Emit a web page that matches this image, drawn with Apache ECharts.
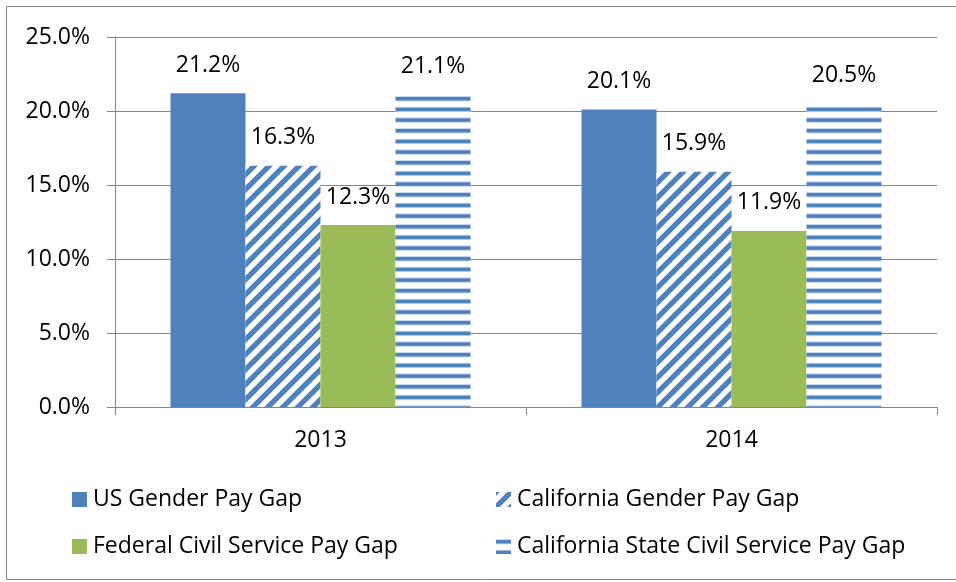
<!DOCTYPE html>
<html>
<head>
<meta charset="utf-8">
<script src="https://cdn.jsdelivr.net/npm/echarts@6/dist/echarts.min.js"></script>
<style>
  html, body { margin: 0; padding: 0; background: #fff; }
  #chart { width: 956px; height: 582px; }
</style>
</head>
<body>
<div id="chart"></div>
<script>
var categories = ['2013', '2014'];
var seriesNames = ['US Gender Pay Gap', 'California Gender Pay Gap', 'Federal Civil Service Pay Gap', 'California State Civil Service Pay Gap'];
var usGap = [21.2, 20.1];
var caGap = [16.3, 15.9];
var fedGap = [12.3, 11.9];
var caStateGap = [21.1, 20.5];
var yTicks = [0, 5, 10, 15, 20, 25];

var BLUE = '#4F81BD';
var GREEN = '#9BBB59';
var FONT = '"Open Sans", sans-serif';
var FS = 23;

function diagPattern() {
  var T = 15;
  var c = document.createElement('canvas');
  c.width = T; c.height = T;
  var g = c.getContext('2d');
  g.fillStyle = '#fff';
  g.fillRect(0, 0, T, T);
  g.strokeStyle = BLUE;
  g.lineWidth = 5.3;
  g.lineCap = 'square';
  var offs = [-T, 0, T];
  for (var i = 0; i < offs.length; i++) {
    g.beginPath();
    g.moveTo(offs[i] - 2, T + 2);
    g.lineTo(offs[i] + T + 2, -2);
    g.stroke();
  }
  return { image: c, repeat: 'repeat' };
}

function horizPattern() {
  var P = 32 / 3;
  var c = document.createElement('canvas');
  c.width = 8; c.height = 32;
  var g = c.getContext('2d');
  g.fillStyle = '#fff';
  g.fillRect(0, 0, 8, 32);
  for (var k = 0; k < 3; k++) {
    var y = k * P;
    g.fillStyle = 'rgba(79,129,189,0.3)';
    g.fillRect(0, y, 8, 5.5);
    g.fillStyle = BLUE;
    g.fillRect(0, y + 1, 8, 3.5);
  }
  return { image: c, repeat: 'repeat' };
}

var colors = [BLUE, diagPattern(), GREEN, horizPattern()];
var values = [usGap, caGap, fedGap, caStateGap];

var labelStyle = {
  show: true,
  position: 'top',
  distance: 16,
  color: '#000',
  fontFamily: FONT,
  fontSize: FS,
  lineHeight: 24,
  formatter: function (p) { return p.value.toFixed(1) + '%'; }
};

var series = seriesNames.map(function (n, i) {
  return {
    name: n,
    type: 'bar',
    data: values[i],
    barGap: '0%',
    barCategoryGap: '27%',
    itemStyle: { color: colors[i] },
    label: labelStyle,
    emphasis: { disabled: true }
  };
});

var legendPos = [
  { left: 72, top: 488 },
  { left: 496, top: 488 },
  { left: 72, top: 535 },
  { left: 496, top: 535 }
];

var legends = seriesNames.map(function (n, i) {
  return {
    data: [n],
    left: legendPos[i].left,
    top: legendPos[i].top,
    padding: 0,
    itemWidth: 15,
    itemHeight: 15,
    itemGap: 0,
    icon: 'rect',
    selectedMode: false,
    textStyle: { fontFamily: FONT, fontSize: FS, color: '#000', padding: [0, 0, 0, 1] }
  };
});

var chart = echarts.init(document.getElementById('chart'), null, { renderer: 'canvas' });
chart.setOption({
  animation: false,
  backgroundColor: '#fff',
  legend: legends,
  grid: { left: 115, right: 19, top: 37, bottom: 175, containLabel: false },
  xAxis: {
    type: 'category',
    data: categories,
    boundaryGap: true,
    axisLine: { lineStyle: { color: '#868686', width: 1 } },
    axisTick: { show: true, length: 8, lineStyle: { color: '#868686' } },
    axisLabel: { color: '#000', fontFamily: FONT, fontSize: FS, margin: 22 }
  },
  yAxis: {
    type: 'value',
    min: yTicks[0],
    max: yTicks[yTicks.length - 1],
    interval: yTicks[1] - yTicks[0],
    axisLine: { show: true, lineStyle: { color: '#868686', width: 1 } },
    axisTick: { show: true, inside: false, length: 8, lineStyle: { color: '#868686' } },
    splitLine: { show: true, lineStyle: { color: '#868686', width: 1 } },
    axisLabel: {
      color: '#000', fontFamily: FONT, fontSize: FS, margin: 25,
      formatter: function (v) { return v.toFixed(1) + '%'; }
    }
  },
  graphic: [{
    type: 'rect',
    shape: { x: 6.5, y: 6.5, width: 960, height: 573 },
    style: { fill: 'none', stroke: '#868686', lineWidth: 1 },
    silent: true
  }],
  series: series
});
</script>
</body>
</html>
